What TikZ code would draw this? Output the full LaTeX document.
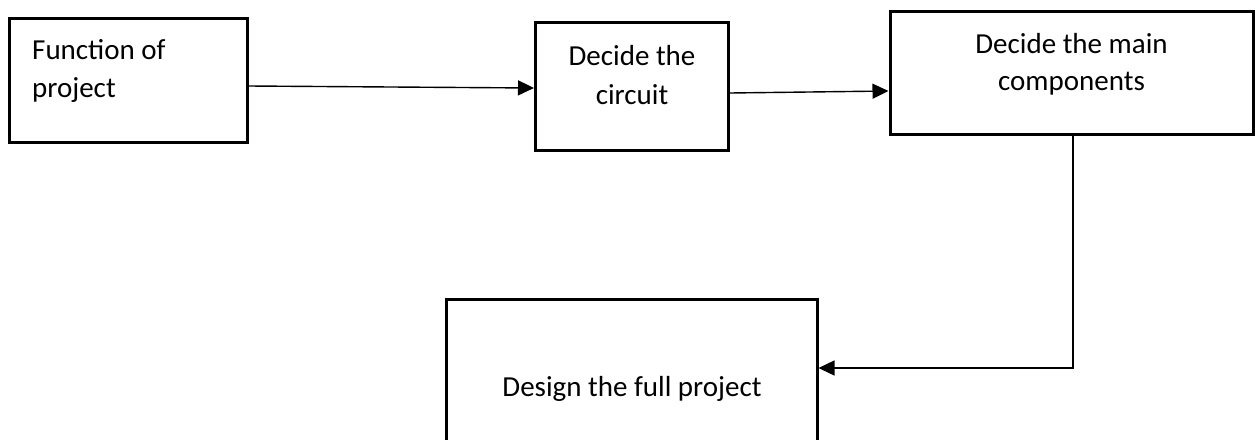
\documentclass[tikz,border=0pt]{standalone}
\usepackage{fontspec}
\setmainfont{Carlito}
\usetikzlibrary{arrows.meta}
\begin{document}
\begin{tikzpicture}[x=1pt,y=-1pt,
  box/.style={draw, line width=3pt, inner sep=0pt, minimum width=#1},
  txt/.style={inner sep=0pt, font=\fontsize{29}{38}\selectfont},
  conn/.style={line width=1.4pt, -{Triangle[length=16pt,width=15pt]}}]
  \useasboundingbox (0,0) rectangle (1255,439);

  % boxes
  \node[box=238, minimum height=124] (b1) at (128,80) {};
  \node[box=193, minimum height=128] (b2) at (632,86) {};
  \node[box=363, minimum height=123] (b3) at (1071.5,72.5) {};
  \node[box=371, minimum height=200] (b4) at (631.5,399) {};

  % labels
  \node[txt, anchor=base west] (l1a) at (32,59) {Function of};
  \node[txt, anchor=base west] (l1b) at (32,97) {project};
  \node[txt, anchor=base] (l2a) at (632,65) {Decide the};
  \node[txt, anchor=base] (l2b) at (632,104) {circuit};
  \node[txt, anchor=base] (l3a) at (1071.5,53) {Decide the main};
  \node[txt, anchor=base] (l3b) at (1071.5,90) {components};
  \node[txt, anchor=base] (l4) at (632,396) {Design the full project};

  % connectors
  \draw[conn] ([yshift=-6pt]b1.east) -- ([yshift=-2pt]b2.west);
  \draw[conn] ([yshift=-7pt]b2.east) -- ([yshift=-18.5pt]b3.west);
  \coordinate (bend) at (1073,368);
  \draw[conn] (b3.south -| bend) -- (bend) -- (bend -| b4.east);
\end{tikzpicture}
\end{document}
